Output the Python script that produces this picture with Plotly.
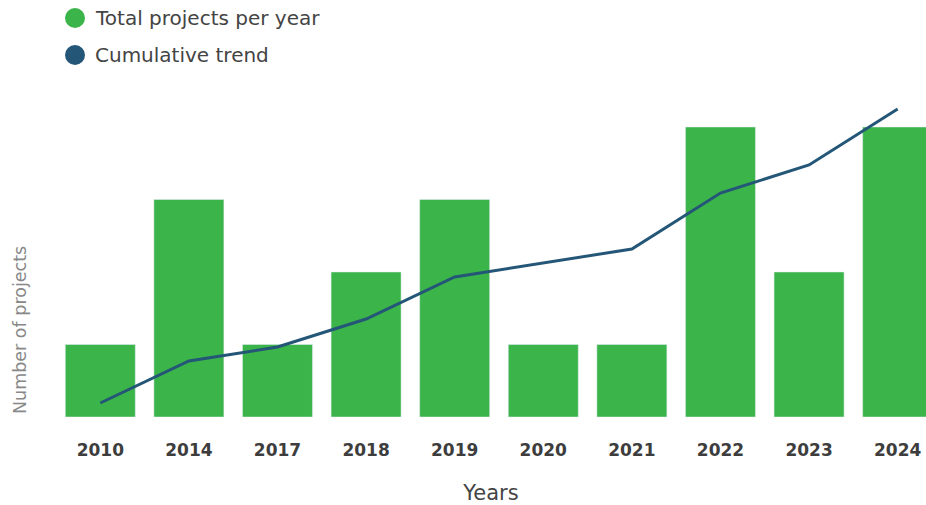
import plotly.graph_objects as go

years = ["2010", "2014", "2017", "2018", "2019", "2020", "2021", "2022", "2023", "2024"]
projects = [1, 3, 1, 2, 3, 1, 1, 4, 2, 4]
cumulative = [1, 4, 5, 7, 10, 11, 12, 16, 18, 22]
legend_labels = ["Total projects per year", "Cumulative trend"]

GREEN = "#3BB44A"
BLUE = "#245677"
FONT = "DejaVu Sans"

W, H = 926, 505
L, R, T, B = 56, 0, 90, 88
PW, PH = W - L - R, H - T - B


def px(x):
    return (x - L) / PW


def py(y):
    return (H - B - y) / PH


fig = go.Figure()
fig.add_trace(go.Bar(x=years, y=projects, marker_color=GREEN, showlegend=False,
                     name=legend_labels[0]))
fig.add_trace(go.Scatter(x=years, y=cumulative, mode="lines", yaxis="y2",
                         line=dict(color=BLUE, width=3), showlegend=False,
                         name=legend_labels[1]))

shapes = []
annotations = []
for i, (lab, col) in enumerate(zip(legend_labels, [GREEN, BLUE])):
    cy = 18 + 37 * i
    shapes.append(dict(type="circle", xref="paper", yref="paper",
                       x0=px(65), x1=px(85), y0=py(cy + 10), y1=py(cy - 10),
                       fillcolor=col, line=dict(width=0)))
    annotations.append(dict(text=lab, xref="paper", yref="paper", x=px(93), y=py(cy),
                            xanchor="left", yanchor="middle", showarrow=False,
                            font=dict(size=20, color="#444")))
annotations.append(dict(text="Number of projects", textangle=-90, xref="paper", yref="paper",
                        x=px(20), y=py(416), xanchor="center", yanchor="bottom", showarrow=False,
                        font=dict(size=17.5, color="#888")))

fig.update_layout(
    width=W, height=H,
    margin=dict(l=L, r=R, t=T, b=B, autoexpand=False),
    plot_bgcolor="white", paper_bgcolor="white",
    font=dict(family=FONT, color="#444"),
    bargap=0.21,
    showlegend=False,
    xaxis=dict(range=[-0.5, 9.32], showgrid=False, showline=False, zeroline=False,
               ticks="outside", ticklen=18, tickcolor="rgba(0,0,0,0)",
               tickfont=dict(size=17, color="#3d3d3d", family=FONT, weight="bold"),
               title=dict(text="Years", font=dict(size=21, color="#444"), standoff=28)),
    yaxis=dict(range=[0, PH / 72.5], visible=False, showgrid=False, zeroline=False),
    yaxis2=dict(range=[0, PH / 14.0], overlaying="y", visible=False, showgrid=False,
                zeroline=False),
    shapes=shapes,
    annotations=annotations,
)

fig.write_html("out.html")
